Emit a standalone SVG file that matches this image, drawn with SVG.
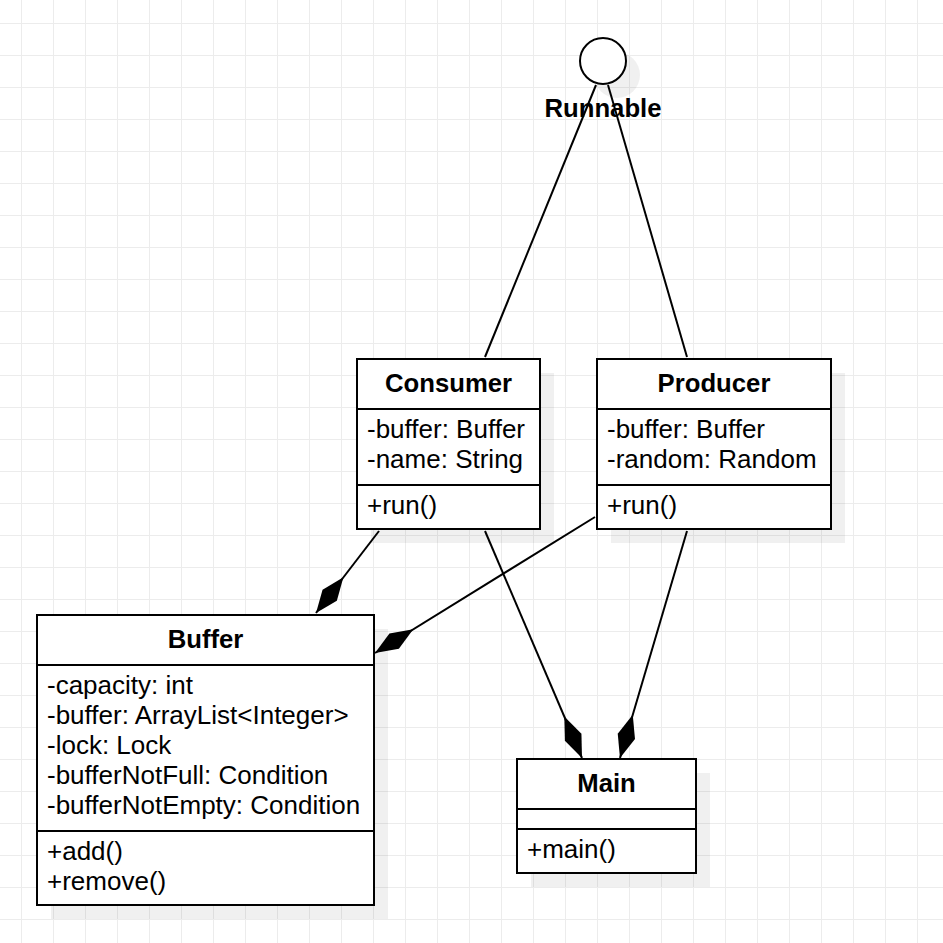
<svg xmlns="http://www.w3.org/2000/svg" width="943" height="943" viewBox="0 0 943 943">
<style>
.box{fill:#fff;stroke:#000;stroke-width:2}
.sh{fill:#000;fill-opacity:0.06}
.div{stroke:#000;stroke-width:2}
.t{font-family:"Liberation Sans",Arial,sans-serif;font-size:26px;fill:#000}
.b{font-weight:bold;text-anchor:middle;font-size:25.7px}
.edge{stroke:#000;stroke-width:2;fill:none}
</style>
<defs>
<pattern id="grid" patternUnits="userSpaceOnUse" x="21" y="23" width="32" height="32">
<rect x="0" y="0" width="1" height="32" fill="#ececec"/>
<rect x="0" y="0" width="32" height="1" fill="#ececec"/>
</pattern>
<marker id="diamond" viewBox="-46 -10 47 20" refX="0" refY="0" markerWidth="47" markerHeight="20" markerUnits="userSpaceOnUse" orient="auto">
<path d="M0,0 L-22.5,-9 L-45,0 L-22.5,9 Z" fill="#000" stroke="none"/>
</marker>
</defs>
<rect width="943" height="943" fill="#fff"/>
<rect width="943" height="943" fill="url(#grid)"/>

<g id="shadows">
<circle class="sh" cx="617" cy="75" r="23"/>
<rect class="sh" x="371" y="373" width="183" height="170"/>
<rect class="sh" x="611" y="373" width="234" height="170"/>
<rect class="sh" x="51" y="629" width="337" height="290"/>
<rect class="sh" x="531" y="773" width="179" height="114"/>
</g>

<g id="runnable">
<circle cx="603" cy="61" r="23" fill="#fff" stroke="#000" stroke-width="2"/>
<text class="t b" x="603" y="117">Runnable</text>
</g>

<g id="consumer">
<rect class="box" x="357" y="359" width="183" height="170"/>
<line class="div" x1="357" y1="409" x2="540" y2="409"/>
<line class="div" x1="357" y1="485" x2="540" y2="485"/>
<text class="t b" x="448.5" y="392">Consumer</text>
<text class="t" x="367" y="438">-buffer: Buffer</text>
<text class="t" x="367" y="468">-name: String</text>
<text class="t" x="367" y="514">+run()</text>
</g>

<g id="producer">
<rect class="box" x="597" y="359" width="234" height="170"/>
<line class="div" x1="597" y1="409" x2="831" y2="409"/>
<line class="div" x1="597" y1="485" x2="831" y2="485"/>
<text class="t b" x="714" y="392">Producer</text>
<text class="t" x="607" y="438">-buffer: Buffer</text>
<text class="t" x="607" y="468">-random: Random</text>
<text class="t" x="607" y="514">+run()</text>
</g>

<g id="buffer">
<rect class="box" x="37" y="615" width="337" height="290"/>
<line class="div" x1="37" y1="665" x2="374" y2="665"/>
<line class="div" x1="37" y1="831" x2="374" y2="831"/>
<text class="t b" x="205.5" y="648">Buffer</text>
<text class="t" x="47" y="694">-capacity: int</text>
<text class="t" x="47" y="724">-buffer: ArrayList&lt;Integer&gt;</text>
<text class="t" x="47" y="754">-lock: Lock</text>
<text class="t" x="47" y="784">-bufferNotFull: Condition</text>
<text class="t" x="47" y="814">-bufferNotEmpty: Condition</text>
<text class="t" x="47" y="860">+add()</text>
<text class="t" x="47" y="890">+remove()</text>
</g>

<g id="main">
<rect class="box" x="517" y="759" width="179" height="114"/>
<line class="div" x1="517" y1="809" x2="696" y2="809"/>
<line class="div" x1="517" y1="829" x2="696" y2="829"/>
<text class="t b" x="606.5" y="792">Main</text>
<text class="t" x="527" y="858">+main()</text>
</g>

<g id="connectors">
<line class="edge" x1="596" y1="85" x2="485" y2="357"/>
<line class="edge" x1="608" y1="85" x2="687" y2="357"/>
<line class="edge" x1="379" y1="531" x2="316" y2="613" marker-end="url(#diamond)"/>
<line class="edge" x1="595" y1="517" x2="375" y2="653" marker-end="url(#diamond)"/>
<line class="edge" x1="485" y1="531" x2="582" y2="758" marker-end="url(#diamond)"/>
<line class="edge" x1="687" y1="531" x2="620" y2="758" marker-end="url(#diamond)"/>
</g>
</svg>
